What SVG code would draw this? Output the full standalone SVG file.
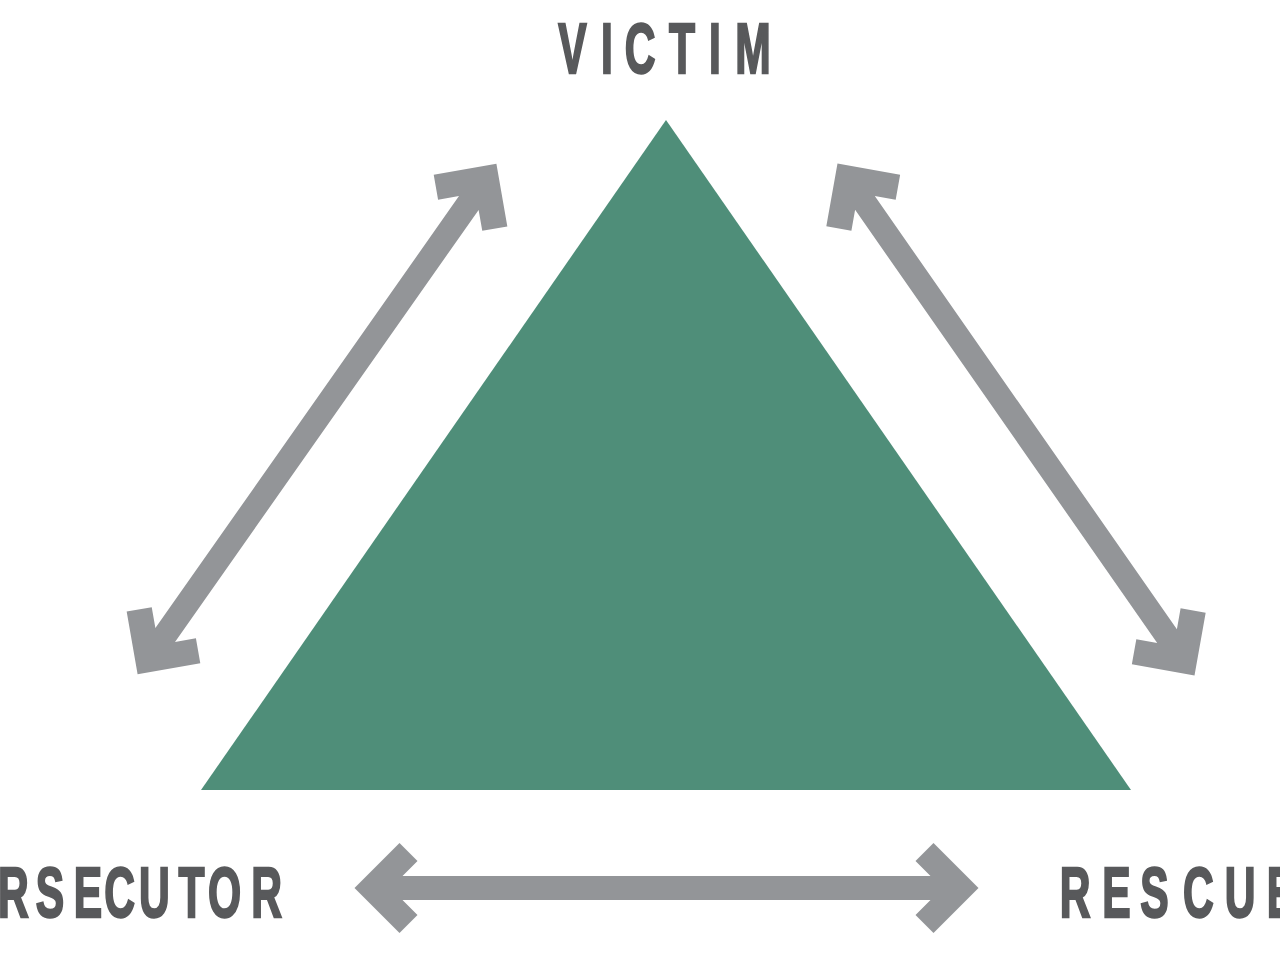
<svg xmlns="http://www.w3.org/2000/svg" xmlns:xlink="http://www.w3.org/1999/xlink" width="1280" height="960" viewBox="0 0 1280 960">
  <style>
    .lbl { font-family: "Liberation Sans", Arial, sans-serif; font-weight: bold; font-size: 71px; fill: #58595B; stroke: #58595B; stroke-width: 2; vector-effect: non-scaling-stroke; text-anchor: middle; }
    .arr { fill: #939598; }
    .tri { fill: #4F8E79; }
  </style>
  <defs>
    <polygon id="dbl" class="arr" points="-312,0 -267,-45 -249,-27 -264,-12 264,-12 249,-27 267,-45 312,0 267,45 249,27 264,12 -264,12 -249,27 -267,45"/>
  </defs>
  <rect width="1280" height="960" fill="#ffffff"/>
  <g id="triangle">
    <polygon class="tri" points="666,120 1131,790 201,790"/>
  </g>
  <g id="connectors">
    <use xlink:href="#dbl" href="#dbl" transform="translate(317,419) rotate(-54.9)"/>
    <use xlink:href="#dbl" href="#dbl" transform="translate(1016,419.5) rotate(55.1)"/>
    <use xlink:href="#dbl" href="#dbl" transform="translate(666.5,888)"/>
  </g>
  <g id="victim" transform="scale(0.6,1)">
    <text class="lbl" y="73" x="954.2 1011.7 1066.7 1136.7 1191.7 1255">VICTIM</text>
  </g>
  <g id="persecutor" transform="scale(0.6,1)">
    <text class="lbl" y="917" x="-98.3 -38.3 22.5 83.3 146.7 199.2 257.5 319.2 374.2 444.2">PERSECUTOR</text>
  </g>
  <g id="rescuer" transform="scale(0.6,1)">
    <text class="lbl" y="917" x="1791.7 1860.8 1924.2 1997.5 2066.7 2135 2203.3">RESCUER</text>
  </g>
</svg>
